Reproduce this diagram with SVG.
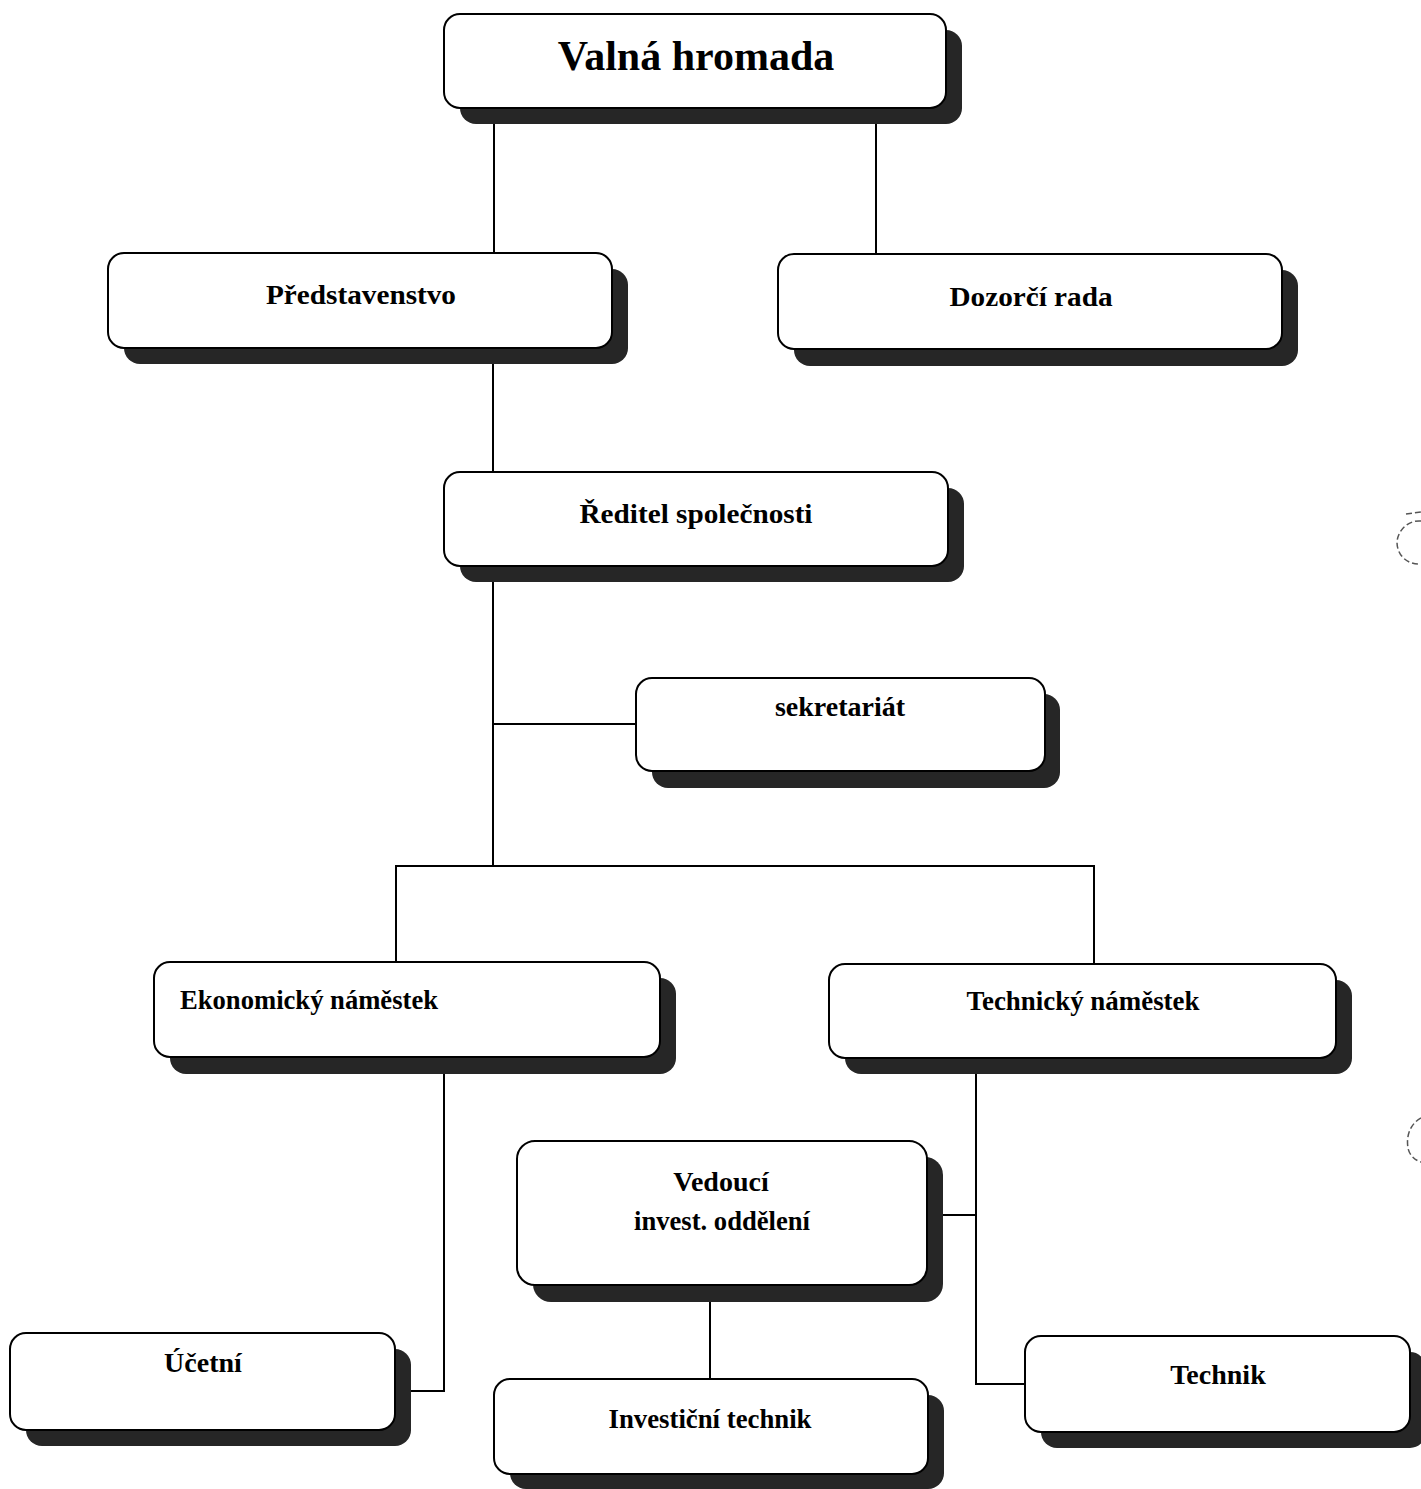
<svg xmlns="http://www.w3.org/2000/svg" width="1421" height="1489" viewBox="0 0 1421 1489">
<style>
.sh{fill:#262626}
.bx{fill:#ffffff;stroke:#000;stroke-width:2}
.t{font-family:"Liberation Serif","Times New Roman",serif;font-weight:bold;font-size:28px;fill:#000;text-anchor:middle}
.c{fill:none;stroke:#000;stroke-width:2}
.a{fill:none;stroke:#555;stroke-width:1.5;stroke-dasharray:6 3}
</style>
<rect width="1421" height="1489" fill="#fff"/>
<g id="connectors">
<path class="c" d="M494 124V253"/>
<path class="c" d="M876 124V254"/>
<path class="c" d="M493 364V472"/>
<path class="c" d="M493 582V866"/>
<path class="c" d="M493 724H636"/>
<path class="c" d="M396 962V866H1094V964"/>
<path class="c" d="M444 1074V1391H411"/>
<path class="c" d="M976 1074V1384H1025"/>
<path class="c" d="M943 1215H976"/>
<path class="c" d="M710 1302V1379"/>
</g>
<g id="valna-hromada">
<rect class="sh" x="460" y="30" width="502" height="94" rx="16"/>
<rect class="bx" x="444" y="14" width="502" height="94" rx="16"/>
<text class="t" x="696" y="70" style="font-size:42px">Valná hromada</text>
</g>
<g id="predstavenstvo">
<rect class="sh" x="124" y="269" width="504" height="95" rx="16"/>
<rect class="bx" x="108" y="253" width="504" height="95" rx="16"/>
<text class="t" x="361" y="304" textLength="190" lengthAdjust="spacingAndGlyphs">Představenstvo</text>
</g>
<g id="dozorci-rada">
<rect class="sh" x="794" y="270" width="504" height="96" rx="16"/>
<rect class="bx" x="778" y="254" width="504" height="95" rx="16"/>
<text class="t" x="1031" y="306" textLength="163" lengthAdjust="spacingAndGlyphs">Dozorčí rada</text>
</g>
<g id="reditel">
<rect class="sh" x="460" y="488" width="504" height="94" rx="16"/>
<rect class="bx" x="444" y="472" width="504" height="94" rx="16"/>
<text class="t" x="696" y="523" textLength="233" lengthAdjust="spacingAndGlyphs">Ředitel společnosti</text>
</g>
<g id="sekretariat">
<rect class="sh" x="652" y="694" width="408" height="94" rx="16"/>
<rect class="bx" x="636" y="678" width="409" height="93" rx="16"/>
<text class="t" x="840" y="716">sekretariát</text>
</g>
<g id="ekonomicky-namestek">
<rect class="sh" x="170" y="978" width="506" height="96" rx="16"/>
<rect class="bx" x="154" y="962" width="506" height="95" rx="16"/>
<text class="t" x="180" y="1009" style="text-anchor:start" textLength="258" lengthAdjust="spacingAndGlyphs">Ekonomický náměstek</text>
</g>
<g id="technicky-namestek">
<rect class="sh" x="845" y="980" width="507" height="94" rx="16"/>
<rect class="bx" x="829" y="964" width="507" height="94" rx="16"/>
<text class="t" x="1083" y="1010" textLength="233" lengthAdjust="spacingAndGlyphs">Technický náměstek</text>
</g>
<g id="vedouci-invest">
<rect class="sh" x="533" y="1157" width="410" height="145" rx="18"/>
<rect class="bx" x="517" y="1141" width="410" height="144" rx="18"/>
<text class="t" x="721" y="1191">Vedoucí</text>
<text class="t" x="722" y="1230" textLength="176" lengthAdjust="spacingAndGlyphs">invest. oddělení</text>
</g>
<g id="ucetni">
<rect class="sh" x="26" y="1349" width="385" height="97" rx="16"/>
<rect class="bx" x="10" y="1333" width="385" height="97" rx="16"/>
<text class="t" x="203" y="1372">Účetní</text>
</g>
<g id="investicni-technik">
<rect class="sh" x="510" y="1395" width="434" height="94" rx="16"/>
<rect class="bx" x="494" y="1379" width="434" height="95" rx="16"/>
<text class="t" x="710" y="1428" textLength="203" lengthAdjust="spacingAndGlyphs">Investiční technik</text>
</g>
<g id="technik">
<rect class="sh" x="1041" y="1352" width="385" height="96" rx="16"/>
<rect class="bx" x="1025" y="1336" width="385" height="96" rx="16"/>
<text class="t" x="1218" y="1384">Technik</text>
</g>
<path class="a" d="M1406 514L1421 512M1421 521C1408 520 1398 530 1397 542C1397 556 1408 565 1421 564"/>
<path class="a" d="M1421 1118C1410 1124 1406 1136 1408 1148C1409 1154 1414 1160 1421 1162"/>
</svg>
